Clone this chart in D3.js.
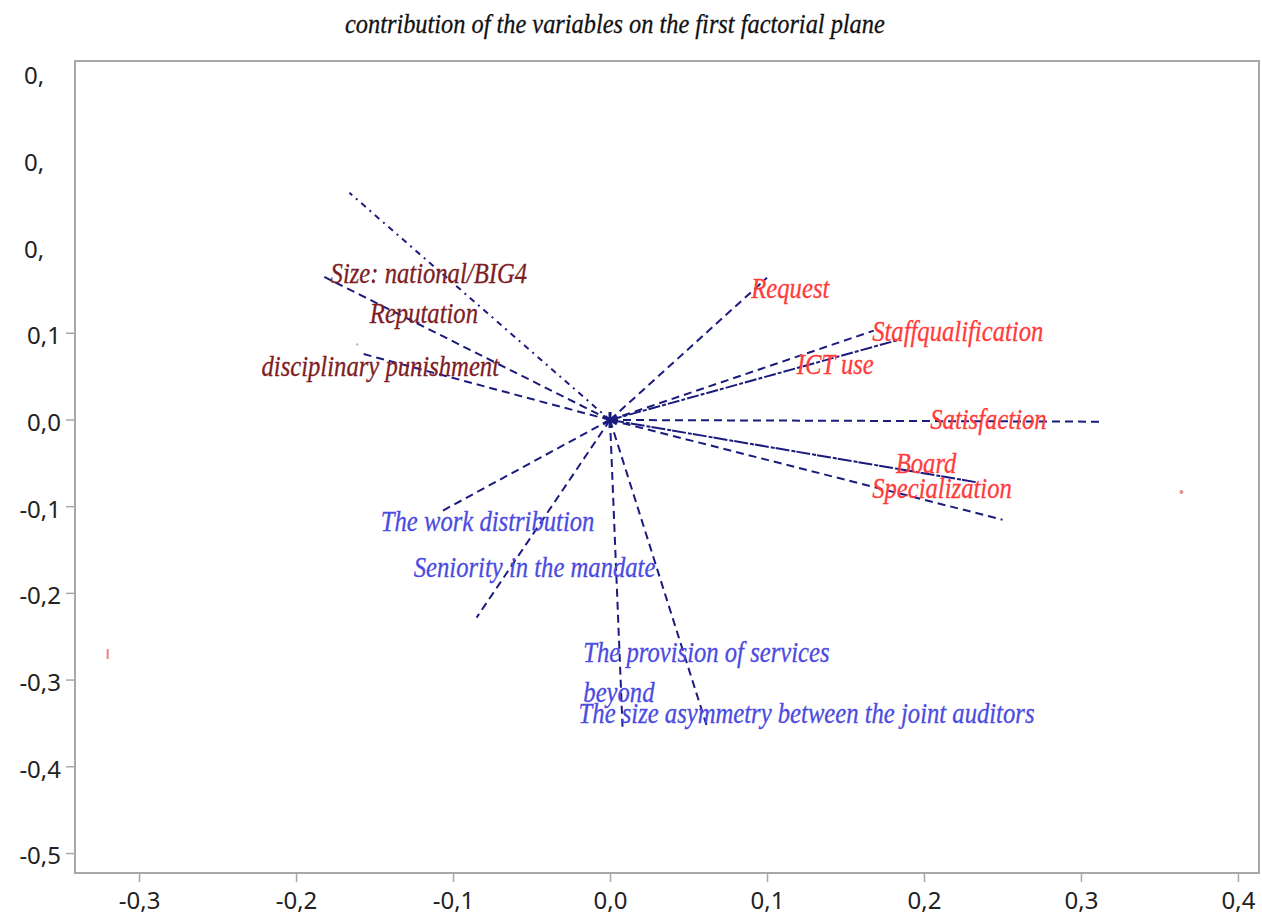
<!DOCTYPE html>
<html>
<head>
<meta charset="utf-8">
<script src="https://cdn.jsdelivr.net/npm/d3@7"></script>
<style>
  body { margin: 0; background: #fff; }
  svg { display: block; }
</style>
</head>
<body>
<script>
/* data */
var variables = ['Size: national/BIG4', 'Reputation', 'disciplinary punishment',
    'Request', 'Staffqualification', 'ICT use', 'Satisfaction', 'Board', 'Specialization',
    'The work distribution', 'Seniority in the mandate',
    'The provision of services beyond', 'The size asymmetry between the joint auditors'];
var groups = ['a', 'a', 'a', 'b', 'b', 'b', 'b', 'b', 'b', 'c', 'c', 'c', 'c'];
var f1 = [-0.182, -0.166, -0.159, 0.100, 0.168, 0.183, 0.312, 0.234, 0.250, -0.108, -0.085, 0.008, 0.062];
var f2 = [0.165, 0.262, 0.077, 0.164, 0.103, 0.092, -0.002, -0.072, -0.115, -0.106, -0.228, -0.355, -0.355];
// where each label sits (data units, left / baseline)
var labelX = [-0.178, -0.153, -0.222, 0.090, 0.167, 0.119, 0.204, 0.182, 0.167, -0.146, -0.125, -0.017, -0.020];
var labelY = [0.158, 0.112, 0.051, 0.141, 0.091, 0.053, -0.010, -0.061, -0.090, -0.128, -0.181, -0.279, -0.349];
// stray observation marks
var obsX = [-0.320, 0.364, -0.161];
var obsY = [-0.270, -0.083, 0.087];

var xTicks = [-0.3, -0.2, -0.1, 0.0, 0.1, 0.2, 0.3, 0.4];
var yTicks = [0.4, 0.3, 0.2, 0.1, 0.0, -0.1, -0.2, -0.3, -0.4, -0.5];
var yTickLabels = ['0,', '0,', '0,', '0,1', '0,0', '-0,1', '-0,2', '-0,3', '-0,4', '-0,5'];
var title = 'contribution of the variables on the first factorial plane';

/* setup */
var width = 1262, height = 915;
var box = { left: 75, top: 61, right: 1259, bottom: 873 };

var x = d3.scaleLinear().domain([-0.3408, 0.4134]).range([box.left, box.right]);
var y = d3.scaleLinear().domain([0.414, -0.5225]).range([box.top, box.bottom]);

var colors = { a: '#7e1d24', b: '#ff3b3b', c: '#4b4be0' };
var dashes = {
    'Reputation': '6,5,2,5',
    'ICT use': '12,2,4,2',
    'Board': '14,2,4,1'
};
var navy = '#1b1b7e';
var serif = '"Liberation Serif", "Times New Roman", serif';

var svg = d3.select('body').append('svg')
    .attr('width', width)
    .attr('height', height);

/* title */
svg.append('text')
    .attr('transform', 'translate(345,33) scale(0.87,1)')
    .attr('font-family', serif)
    .attr('font-style', 'italic')
    .attr('font-size', 28)
    .attr('fill', '#111')
    .attr('stroke', '#111')
    .attr('stroke-width', 0.3)
    .text(title);

/* frame */
svg.append('rect')
    .attr('x', box.left).attr('y', box.top)
    .attr('width', box.right - box.left).attr('height', box.bottom - box.top)
    .attr('fill', 'none')
    .attr('stroke', '#a8a8a8')
    .attr('stroke-width', 2);

/* axes */
var xAxis = d3.axisBottom(x)
    .tickValues(xTicks)
    .tickSize(9)
    .tickFormat(function(d) { return d3.format('.1f')(d).replace('.', ',').replace('−', '-') });

var gx = svg.append('g')
    .attr('transform', 'translate(0,' + box.bottom + ')')
    .call(xAxis);
gx.select('.domain').remove();
gx.selectAll('line').attr('stroke', '#a8a8a8').attr('stroke-width', 1.5);
gx.selectAll('text')
    .attr('font-family', '"Noto Sans", "Open Sans", sans-serif')
    .attr('font-size', 24)
    .attr('fill', '#222')
    .attr('y', 36)
    .attr('dy', null);

var gy = svg.append('g');
gy.selectAll('line').data(yTicks.filter(function(d) { return d <= 0.1 }))
    .enter().append('line')
    .attr('x1', box.left - 9).attr('x2', box.left)
    .attr('y1', function(d) { return y(d) })
    .attr('y2', function(d) { return y(d) })
    .attr('stroke', '#a8a8a8')
    .attr('stroke-width', 1.5);
gy.selectAll('text').data(yTicks)
    .enter().append('text')
    .attr('x', function(d, i) { return yTickLabels[i].length == 2 ? 24 : 61 })
    .attr('y', function(d) { return y(d) + 11 })
    .attr('text-anchor', function(d, i) { return yTickLabels[i].length == 2 ? 'start' : 'end' })
    .attr('font-family', '"Noto Sans", "Open Sans", sans-serif')
    .attr('font-size', 24)
    .attr('fill', '#222')
    .text(function(d, i) { return yTickLabels[i] });

/* vectors */
var g_vec = svg.append('g');
g_vec.selectAll('line').data(variables)
    .enter().append('line')
    .attr('x1', x(0)).attr('y1', y(0))
    .attr('x2', function(d, i) { return x(f1[i]) })
    .attr('y2', function(d, i) { return y(f2[i]) })
    .attr('stroke', navy)
    .attr('stroke-width', 2)
    .attr('stroke-dasharray', function(d) { return dashes[d] || '8,5' });

svg.append('path')
    .attr('transform', 'translate(' + x(0) + ',' + y(0) + ')')
    .attr('d', d3.symbol().type(d3.symbolAsterisk).size(180)())
    .attr('fill', 'none')
    .attr('stroke', navy)
    .attr('stroke-width', 3);

/* observations */
svg.append('line')
    .attr('x1', x(obsX[0])).attr('x2', x(obsX[0]))
    .attr('y1', y(obsY[0]) - 5).attr('y2', y(obsY[0]) + 5)
    .attr('stroke', '#f08080').attr('stroke-width', 2);
svg.append('circle')
    .attr('cx', x(obsX[1])).attr('cy', y(obsY[1])).attr('r', 2)
    .attr('fill', '#d89090');
svg.append('circle')
    .attr('cx', x(obsX[2])).attr('cy', y(obsY[2])).attr('r', 1.2)
    .attr('fill', '#bbb');

/* labels */
var g_lab = svg.append('g');
variables.forEach(function(name, i) {
    var lines = name == 'The provision of services beyond' ? ['The provision of services', 'beyond'] : [name];
    var t = g_lab.append('text')
        .attr('transform', 'translate(' + x(labelX[i]) + ',' + y(labelY[i]) + ') scale(0.85,1)')
        .attr('font-family', serif)
        .attr('font-style', 'italic')
        .attr('font-size', 29)
        .attr('fill', colors[groups[i]])
        .attr('stroke', colors[groups[i]])
        .attr('stroke-width', 0.3);
    lines.forEach(function(s, k) {
        t.append('tspan').attr('x', 0).attr('y', k * 40).text(s);
    });
});
</script>
</body>
</html>
